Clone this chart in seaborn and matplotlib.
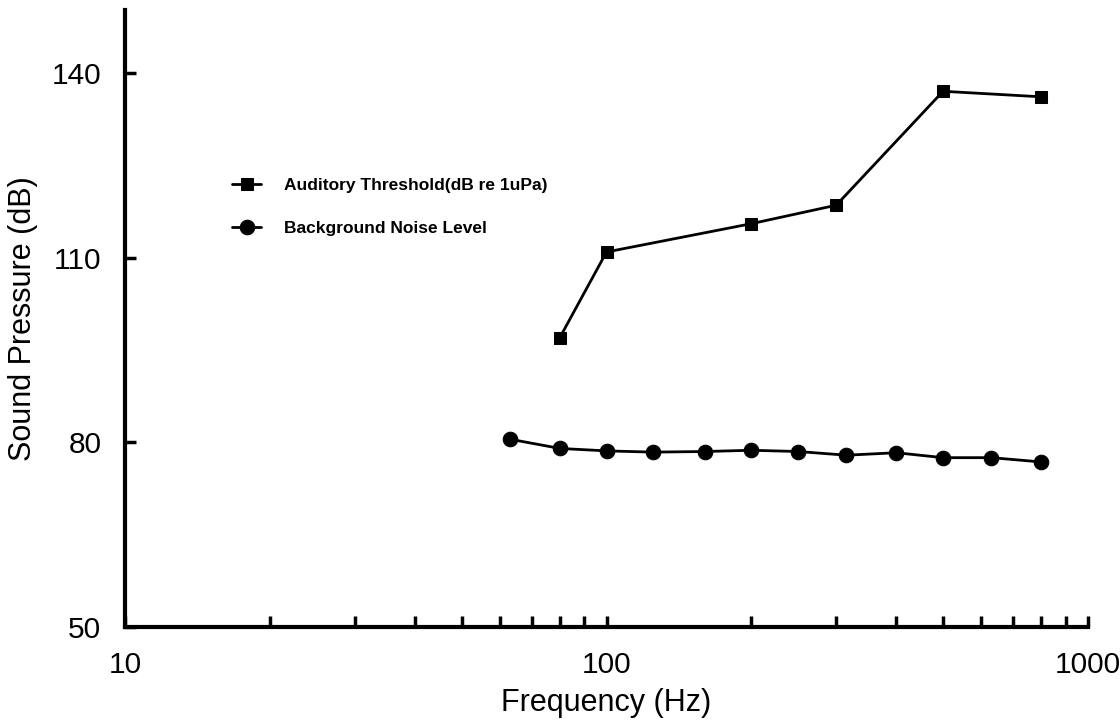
#Auditory threshold vs background noise, log frequency axis
import matplotlib
matplotlib.use('Agg')
import matplotlib.pyplot as plt
import seaborn as sns
from matplotlib.ticker import LogLocator, NullFormatter

#threshold points (Hz, dB)
thresh_freq = [80, 100, 200, 300, 500, 800]
thresh_db = [97.0, 110.9, 115.5, 118.5, 137.0, 136.1]

#background noise, 1/3 octave bands
noise_freq = [63, 80, 100, 125, 160, 200, 250, 315, 400, 500, 630, 800]
noise_db = [80.5, 79.0, 78.6, 78.4, 78.5, 78.7, 78.5, 77.9, 78.3, 77.5, 77.5, 76.8]

y_ticks = [50, 80, 110, 140]
x_ticks = [10, 100, 1000]
x_labels = ['10', '100', '1000']

sns.set_theme(style='ticks', rc={'axes.edgecolor': 'black',
                                 'xtick.color': 'black',
                                 'ytick.color': 'black',
                                 'text.color': 'black',
                                 'axes.labelcolor': 'black'})
plt.rcParams['font.family'] = ['Liberation Sans', 'DejaVu Sans']

fig = plt.figure(figsize=(11.2, 7.26), dpi=100)
ax = fig.add_axes([125/1120, 99/726, 963/1120, 617/726])

sns.lineplot(x=thresh_freq, y=thresh_db, marker='s', markersize=8,
             color='black', linewidth=2, markeredgecolor='black',
             label='Auditory Threshold(dB re 1uPa)', ax=ax)
sns.lineplot(x=noise_freq, y=noise_db, marker='o', markersize=10.5,
             color='black', linewidth=2, markeredgecolor='black',
             label='Background Noise Level', ax=ax)

ax.set_xscale('log')
ax.set_xlim(10, 1000)
ax.set_ylim(50, 150.2)
ax.set_xticks(x_ticks, labels=x_labels)
ax.xaxis.set_minor_locator(LogLocator(base=10, subs=range(2, 10)))
ax.xaxis.set_minor_formatter(NullFormatter())
ax.set_yticks(y_ticks)

ax.tick_params(which='both', direction='in', length=8, width=2.5, labelsize=21.5)
ax.tick_params(axis='x', pad=17)
ax.tick_params(axis='y', pad=17)

for s in ['top', 'right']:
    ax.spines[s].set_visible(False)
for s in ['left', 'bottom']:
    ax.spines[s].set_linewidth(3)

ax.set_xlabel('Frequency (Hz)', fontsize=22, labelpad=7)
ax.set_ylabel('Sound Pressure (dB)', fontsize=22, labelpad=10)

ax.legend(loc='upper left', bbox_to_anchor=(0.111, 0.728), frameon=False,
          prop={'weight': 'bold', 'size': 12.5}, handlelength=1.7,
          labelspacing=1.6, handletextpad=1.3, borderpad=0, borderaxespad=0)

plt.savefig('out.png', dpi=100)
